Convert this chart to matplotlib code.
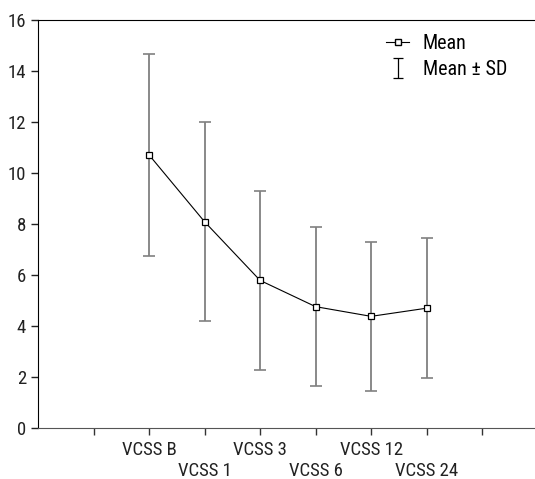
import matplotlib
matplotlib.use("Agg")
import matplotlib.pyplot as plt
from matplotlib.path import Path
from matplotlib.lines import Line2D

plt.rcParams['font.family'] = ['Roboto Condensed', 'Liberation Sans Narrow', 'Roboto', 'DejaVu Sans']

categories = ['VCSS B', 'VCSS 1', 'VCSS 3', 'VCSS 6', 'VCSS 12', 'VCSS 24']
means = [10.72, 8.10, 5.80, 4.77, 4.39, 4.71]
sds = [3.96, 3.90, 3.52, 3.13, 2.92, 2.74]

x = list(range(1, len(categories) + 1))

fig = plt.figure(figsize=(5.35, 4.79), dpi=100)
ax = fig.add_axes([0.071, 0.1058, 0.934, 0.852])

eb = ax.errorbar(x, means, yerr=sds, fmt='none', ecolor='#808080', elinewidth=1.3,
                 capsize=4.5, capthick=1.2, zorder=2)
for cap in eb[1]:
    cap.set_color('#222222')
ax.plot(x, means, color='black', lw=0.8, marker='s', markersize=5,
        markerfacecolor='white', markeredgecolor='black', markeredgewidth=0.9, zorder=3)

ax.set_xlim(-1, 8)
ax.set_ylim(0, 16)
ax.set_yticks(range(0, 17, 2))
ax.set_xticks(range(0, len(categories) + 2))
ax.set_xticklabels([''] + categories + [''])
# stagger the labels over two rows
for i, lab in enumerate(ax.get_xticklabels()):
    if i % 2 == 0 and 0 < i <= len(categories):
        lab.set_y(-0.053)

for s in ['left', 'top']:
    ax.spines[s].set_color('black')
ax.spines['bottom'].set_color('#555555')
ax.spines['right'].set_visible(False)
ax.tick_params(axis='both', length=5, width=1, labelsize=13.5, colors='#222222')
ax.tick_params(axis='x', color='#333333', pad=4)

# I-beam marker for the SD legend entry
ibeam = Path([(-0.5, -1), (0.5, -1), (0, -1), (0, 1), (-0.5, 1), (0.5, 1)],
             [Path.MOVETO, Path.LINETO, Path.MOVETO, Path.LINETO, Path.MOVETO, Path.LINETO])
h1 = Line2D([], [], color='black', lw=0.8, marker='s', markersize=5,
            markerfacecolor='white', markeredgecolor='black')
h2 = Line2D([], [], color='none', marker=ibeam, markersize=14,
            markerfacecolor='none', markeredgecolor='black', markeredgewidth=0.9)
ax.legend([h1, h2], ['Mean', 'Mean ± SD'], loc='upper right', bbox_to_anchor=(0.975, 1.01),
          frameon=False, fontsize=14.5, handlelength=1.1, handletextpad=0.7,
          labelspacing=0.35)

fig.savefig('out.png', dpi=100)
